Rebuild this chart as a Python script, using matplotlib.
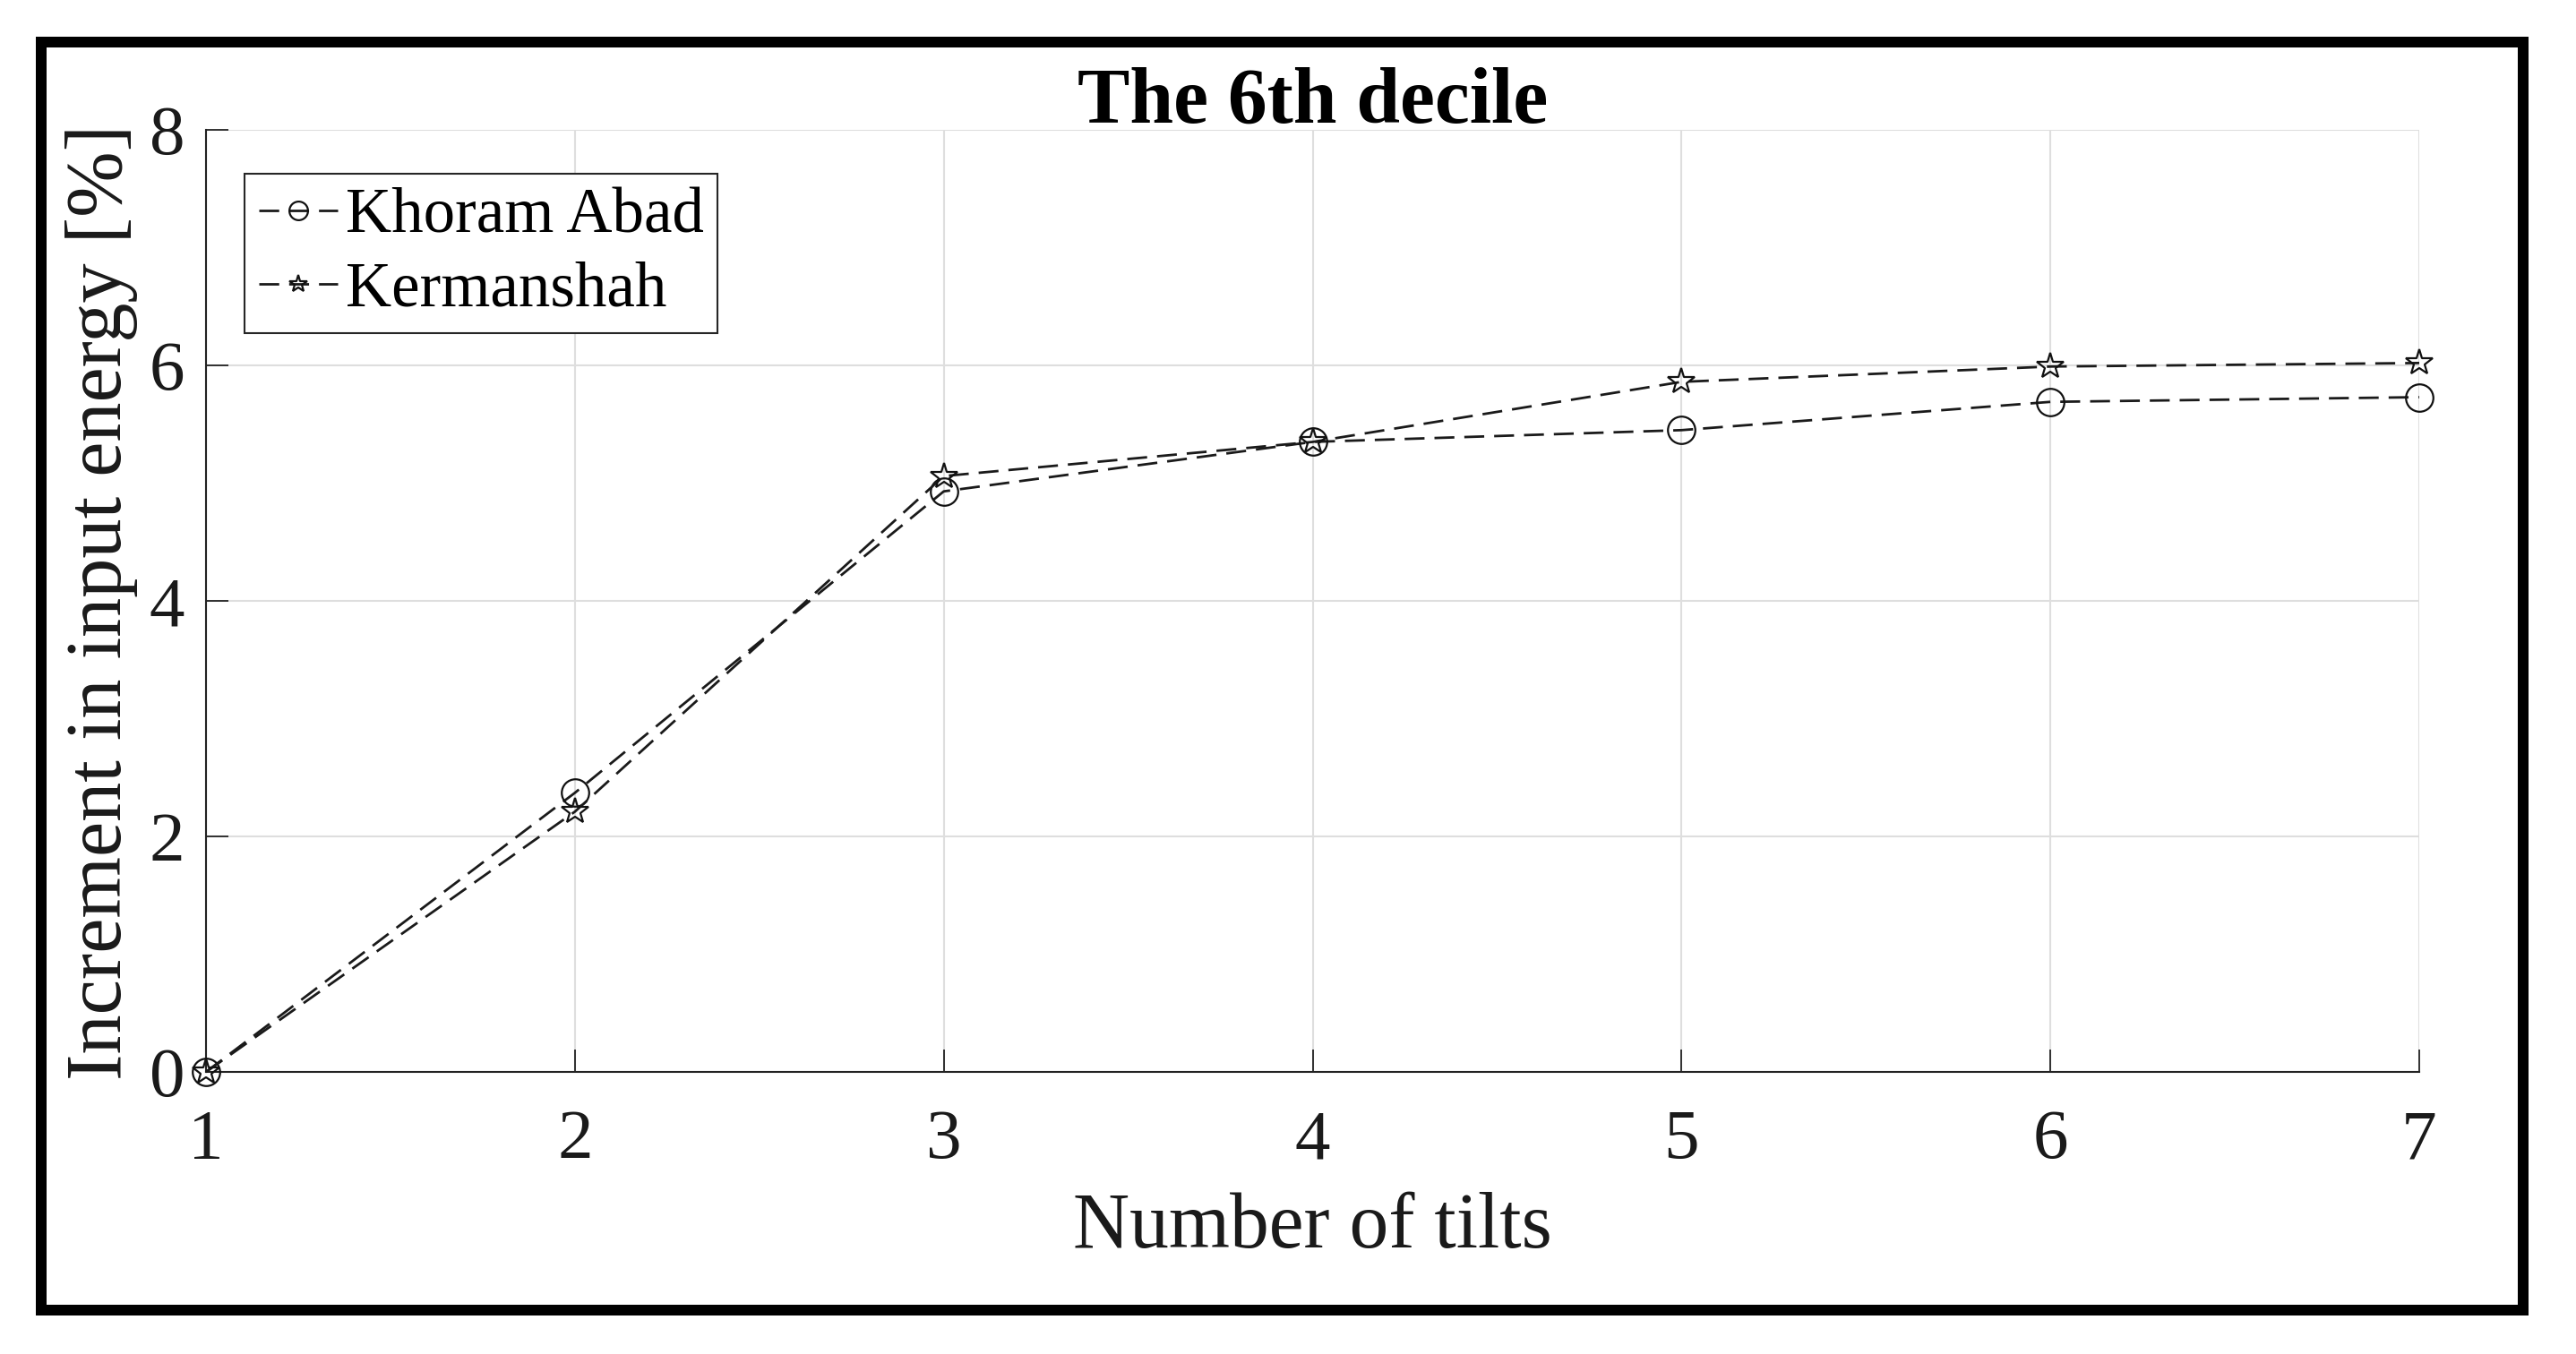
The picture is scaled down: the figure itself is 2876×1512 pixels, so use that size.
import matplotlib
matplotlib.use("Agg")
import matplotlib.pyplot as plt
from matplotlib.patches import Rectangle

# ---- data ----
tilts = [1, 2, 3, 4, 5, 6, 7]
khoram_abad = [0.0, 2.37, 4.93, 5.35, 5.45, 5.69, 5.73]
kermanshah = [0.0, 2.21, 5.06, 5.35, 5.86, 5.99, 6.02]
series_names = ["Khoram Abad", "Kermanshah"]
x_ticks = [1, 2, 3, 4, 5, 6, 7]
y_ticks = [0, 2, 4, 6, 8]
title = "The 6th decile"
xlabel = "Number of tilts"
ylabel = "Increment in input energy [%]"

plt.rcParams['font.family'] = ['Liberation Serif', 'DejaVu Serif']
plt.rcParams['lines.scale_dashes'] = False

W, H, DPI = 2876, 1512, 100
fig = plt.figure(figsize=(W / DPI, H / DPI), dpi=DPI)
fig.patch.set_facecolor('white')

# axes position in pixels
L, R, T, B = 230, 2701, 145, 1197
ax = fig.add_axes([L / W, 1 - B / H, (R - L) / W, (B - T) / H])

dash = (0, (16, 8))
line_col = '#1a1a1a'
ax.plot(tilts, khoram_abad, linestyle=dash, color=line_col, lw=2.0,
        marker='o', ms=22, mfc='none', mec='#111111', mew=1.6,
        label=series_names[0], clip_on=False, zorder=3)
ax.plot(tilts, kermanshah, linestyle=dash, color=line_col, lw=2.0,
        marker='*', ms=22, mfc='none', mec='#111111', mew=1.6,
        label=series_names[1], clip_on=False, zorder=3)

ax.set_xlim(1, 7)
ax.set_ylim(0, 8)
ax.set_xticks(x_ticks)
ax.set_yticks(y_ticks)
ax.grid(True, color='#dedede', lw=1.5)
ax.set_axisbelow(True)

for s in ['top', 'right']:
    ax.spines[s].set_visible(False)
for s in ['left', 'bottom']:
    ax.spines[s].set_linewidth(1.5)
    ax.spines[s].set_color('#222222')

ax.tick_params(axis='both', direction='in', length=18, width=1.3,
               colors='#222222', labelsize=57, labelcolor='#1a1a1a')
ax.tick_params(axis='x', pad=30)
ax.tick_params(axis='y', pad=17)

# labels
ax.set_xlabel(xlabel, fontsize=63, color='#1a1a1a')
ax.xaxis.label.set_va('baseline')
ax.xaxis.set_label_coords(0.5, (B - 1393) / (B - T))

ax.set_ylabel(ylabel, fontsize=63.5, color='#1a1a1a')
ax.yaxis.label.set_va('center')
ax.yaxis.label.set_ha('center')
ax.yaxis.set_label_coords((114 - L) / (R - L), (B - 673) / (B - T))

fig.text((L + R) / 2 / W, 1 - 137 / H, title, fontsize=63, fontweight='bold',
         ha='center', va='baseline', color='black')

leg = ax.legend(loc='upper left', bbox_to_anchor=((273 - L) / (R - L), (B - 194) / (B - T)),
                borderaxespad=0, fontsize=51, frameon=True, fancybox=False,
                edgecolor='#262626', framealpha=1, markerscale=0.68,
                handlelength=1.25, handletextpad=0.12, borderpad=0.22,
                labelspacing=0.24)
leg.get_frame().set_linewidth(1.5)

# outer black frame
fig.patches.append(Rectangle((46 / W, 1 - 1463 / H), (2817 - 46) / W, (1463 - 47) / H,
                             transform=fig.transFigure, fill=False,
                             edgecolor='black', linewidth=12 * 72 / DPI))

fig.savefig('out.png', dpi=DPI, facecolor='white')
